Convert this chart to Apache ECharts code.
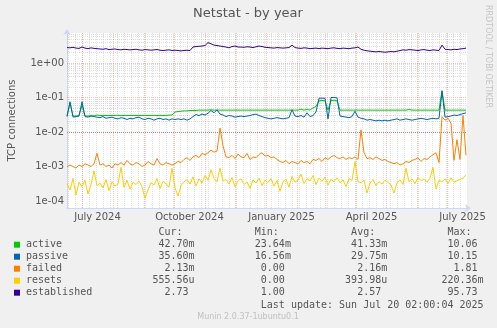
<!DOCTYPE html>
<html><head><meta charset="utf-8">
<script src="https://cdn.jsdelivr.net/npm/echarts@6/dist/echarts.min.js"></script>
<style>html,body{margin:0;padding:0;background:#f0f0f0}#c{width:497px;height:328px}</style>
</head><body><div id="c"></div>
<script>
// ---- time range (400 days, one sample every 3 days) ----
const startDate = '2024-06-16T00:00:00Z';
const endDate = '2025-07-21T00:00:00Z';
const stepDays = 3;

// ---- series values (TCP connections) ----
const active = [0.029,0.07,0.029,0.029,0.03,0.06,0.029,0.029,0.03,0.029,
 0.031,0.03,0.03,0.03,0.03,0.03,0.03,0.03,0.03,0.03,0.03,0.03,0.03,0.03,0.03,0.03,0.03,0.03,0.03,0.03,0.03,0.03,0.03,0.03,0.031,0.031,
 0.038,0.039,0.04,0.041,0.041,0.042,
 0.042,0.042,0.043,0.043,0.043,0.043,0.044,0.043,0.043,0.043,0.043,0.043,0.043,0.043,0.043,0.043,0.043,0.043,0.043,0.043,0.043,0.043,0.043,0.043,0.043,0.043,0.043,0.043,0.043,0.043,0.043,0.043,0.043,0.043,0.043,0.043,0.046,0.043,
 0.045,0.043,0.05,0.055,
 0.08,0.082,0.08,0.043,
 0.082,0.083,0.08,
 0.043,0.043,0.043,0.043,0.043,0.043,0.043,0.043,0.043,0.043,0.043,0.043,0.043,0.043,0.043,0.043,0.043,0.043,0.043,0.043,0.043,0.043,0.043,0.045,0.043,0.043,0.043,0.043,0.043,0.043,0.043,0.043,0.043,0.043,
 0.16,
 0.043,0.043,0.043,0.043,0.043,0.043,0.043,0.0427];
const passive = [0.028,0.075,0.027,0.028,0.029,0.075,0.028,0.027,0.029,0.028,
 0.027,0.026,0.028,0.025,0.026,0.027,0.025,0.024,0.026,0.025,0.023,0.025,0.024,0.026,0.027,0.024,0.023,0.025,0.024,0.022,0.024,0.025,0.023,0.024,0.022,0.024,
 0.023,0.024,0.023,0.024,0.022,0.024,
 0.028,0.032,0.03,0.033,0.031,0.035,0.042,0.036,0.044,0.033,0.031,0.028,0.03,0.029,0.027,0.028,
 0.029,0.028,0.029,0.03,0.032,0.033,0.03,0.028,0.026,0.025,0.024,0.025,0.026,0.025,0.024,0.025,0.026,0.044,0.029,0.028,0.03,0.027,
 0.036,0.028,0.03,0.038,
 0.095,0.096,0.095,0.024,
 0.1,0.1,0.098,
 0.029,0.028,0.027,0.026,0.028,0.04,0.027,0.025,0.024,0.022,0.023,0.022,0.021,0.022,0.021,0.022,0.021,0.022,0.023,0.024,0.022,0.023,0.024,0.023,0.022,0.023,0.024,0.025,0.024,0.023,0.024,0.025,0.024,0.025,
 0.15,
 0.027,0.028,0.029,0.031,0.03,0.032,0.034,0.036];
const failed = [0.001,0.0011,0.001,0.0009,0.0011,0.001,0.0012,0.0011,0.001,0.0012,0.0024,
 0.0011,0.0012,0.001,0.0011,0.0009,0.0012,0.0011,0.0013,0.0011,0.0015,0.0012,0.0011,0.0013,0.0012,0.001,0.0011,0.0014,0.0012,0.0011,0.0017,0.0012,0.0011,0.0013,0.0012,0.0011,
 0.0012,0.0014,0.0013,0.0016,0.0018,0.0015,0.0019,0.0021,0.0018,0.0024,0.0022,0.0025,0.003,0.0026,0.0028,
 0.013,0.004,
 0.0019,0.0018,0.0021,0.0017,0.0023,0.0019,0.0018,0.0024,0.0016,0.0019,0.0018,0.0022,0.0025,0.002,0.0021,
 0.0018,0.0019,0.0016,0.0014,0.0013,0.0015,0.0012,0.0014,0.0013,0.0012,0.0015,0.0013,0.0014,0.0012,0.0016,0.0015,0.0017,0.0014,0.0018,0.0016,0.0019,0.0021,0.0018,0.0017,0.0019,0.0016,0.0018,0.0017,0.0019,0.0016,
 0.0115,0.0025,
 0.0017,0.0018,0.0016,0.0019,0.0017,0.0015,0.0016,0.0014,0.0013,0.0012,0.0013,0.0011,0.0012,0.0014,0.0013,0.0015,0.0016,0.0018,0.0014,0.0017,0.0016,0.0019,0.0022,0.0025,0.0013,
 0.028,0.022,0.025,0.018,0.0015,0.006,0.0016,0.03,0.0021];
const resets = [3.2e-4,2.1e-4,4.5e-4,1.5e-4,3.5e-4,2.6e-4,4.0e-4,1.6e-4,3.0e-4,7.5e-4,2.8e-4,
 3.3e-4,2.4e-4,4.2e-4,2.0e-4,3.6e-4,2.7e-4,3.1e-4,9.5e-4,2.5e-4,4.0e-4,2.2e-4,3.5e-4,3.0e-4,3.8e-4,2.6e-4,1.2e-4,2.1e-4,3.4e-4,2.9e-4,4.5e-4,2.3e-4,3.7e-4,3.2e-4,2.5e-4,9.0e-4,
 2.4e-4,1.4e-4,2.8e-4,3.6e-4,4.2e-4,3.1e-4,5.0e-4,2.7e-4,4.4e-4,3.3e-4,5.5e-4,4.0e-4,8.0e-4,4.5e-4,3.6e-4,
 9.0e-4,3.8e-4,
 4.2e-4,3.1e-4,4.8e-4,2.6e-4,3.9e-4,4.4e-4,3.0e-4,3.6e-4,2.3e-4,4.1e-4,3.3e-4,4.6e-4,2.8e-4,4.0e-4,3.4e-4,
 4.5e-4,2.7e-4,3.9e-4,1.9e-4,3.6e-4,4.3e-4,2.5e-4,5.2e-4,3.5e-4,4.0e-4,6.0e-4,3.2e-4,4.4e-4,3.8e-4,5.5e-4,3.0e-4,4.6e-4,3.7e-4,4.9e-4,2.9e-4,4.2e-4,3.6e-4,4.7e-4,3.4e-4,4.1e-4,2.6e-4,4.5e-4,3.9e-4,1.4e-3,3.6e-4,
 3.4e-4,4.0e-4,
 1.7e-4,3.3e-4,4.2e-4,2.8e-4,3.6e-4,3.1e-4,4.0e-4,3.5e-4,2.9e-4,1.7e-4,3.4e-4,4.1e-4,3.0e-4,9.0e-4,3.6e-4,4.4e-4,3.2e-4,4.8e-4,3.9e-4,4.3e-4,3.5e-4,4.6e-4,9.5e-4,2.2e-4,4.0e-4,
 3.6e-4,4.4e-4,3.2e-4,4.7e-4,3.5e-4,3.9e-4,4.2e-4,4.6e-4,5.6e-4];
const established = [2.8,2.75,2.85,2.7,2.65,2.9,2.7,2.6,2.75,2.65,2.6,
 2.55,2.5,2.6,2.45,2.5,2.55,2.45,2.4,2.5,2.45,2.4,2.45,2.5,2.4,2.35,2.45,2.4,2.35,2.4,2.45,2.35,2.3,2.35,2.4,2.3,2.35,2.3,2.25,2.3,2.35,2.3,
 2.9,3.0,3.05,3.1,3.2,3.9,3.6,3.3,3.2,3.1,3.0,2.9,2.75,3.0,3.1,2.9,
 2.9,2.85,2.95,2.9,2.8,2.95,3.1,3.0,2.85,2.8,2.75,2.7,2.8,2.75,2.7,2.75,2.8,
 3.3,
 2.8,2.7,2.65,2.75,2.7,2.6,2.65,2.7,2.6,2.7,2.65,2.6,2.7,2.75,2.65,2.6,2.7,2.65,2.6,2.7,2.75,2.9,
 2.5,2.35,2.25,2.2,2.15,2.1,2.15,2.1,2.05,2.1,2.15,2.1,2.2,2.3,
 2.4,2.35,2.45,2.4,2.35,2.3,2.4,2.45,2.35,2.3,2.4,2.35,2.3,
 3.3,
 2.5,2.45,2.4,2.5,2.45,2.55,2.6,2.7];

// ---- legend ----
const seriesNames = ['active','passive','failed','resets','established'];
const seriesColors = ['#00CC00','#0066B3','#FF8000','#FFCC00','#330099'];
const curVals = ['42.70m','35.60m','2.13m','555.56u','2.73'];
const minVals = ['23.64m','16.56m','0.00','0.00','1.00'];
const avgVals = ['41.33m','29.75m','2.16m','393.98u','2.57'];
const maxVals = ['10.06','10.15','1.81','220.36m','95.73'];
const lastUpdate = 'Last update: Sun Jul 20 02:00:04 2025';

// ---- axes ----
const yMin = 6.27e-5, yMax = 7.4;
const yTickValues = [1e-4, 1e-3, 1e-2, 1e-1, 1];
const yTickLabels = ['1e-04','1e-03','1e-02','1e-01','1e+00'];
const xTickMonths = ['2024-07','2024-10','2025-01','2025-04','2025-07'];
const xTickLabels = ['July 2024','October 2024','January 2025','April 2025','July 2025'];

const DAY = 86400000;
const t0 = Date.parse(startDate), t1 = Date.parse(endDate);
const toPairs = arr => arr.map((v, i) => [t0 + i * stepDays * DAY, v]);
const allSeries = [active, passive, failed, resets, established];

// grid lines
const MAJ = 'rgba(255,0,0,0.26)', MIN = 'rgba(175,175,175,0.42)';
const hLines = [];
for (let e = -5; e <= 0; e++) for (let k = 1; k <= 9; k++) {
  const v = k * Math.pow(10, e);
  if (v < yMin || v > yMax) continue;
  hLines.push({yAxis: v, lineStyle: {color: k === 1 ? MAJ : MIN, type: [1, 1], width: 1}});
}
const vLines = [];
// weekly minor lines (Mondays)
for (let t = Date.parse('2024-06-17T00:00:00Z'); t < t1; t += 7 * DAY) {
  vLines.push({xAxis: t, lineStyle: {color: MIN, type: [1, 1], width: 1}});
}
for (let y = 2024, m = 6; y * 12 + m <= 2025 * 12 + 6; m++) {
  if (m > 11) { m = 0; y++; }
  vLines.push({xAxis: Date.UTC(y, m, 1), lineStyle: {color: MAJ, type: [1, 1], width: 1}});
}

const option = {
  backgroundColor: '#f0f0f0',
  animation: false,
  grid: {left: 67, top: 33, width: 400, height: 175, show: true, backgroundColor: '#ffffff', borderWidth: 0},
  xAxis: {type: 'time', min: t0, max: t1,
    axisLine: {show: true, lineStyle: {color: '#CFD6F8', width: 1}, symbol: ['none', 'arrow'], symbolSize: [6, 6], symbolOffset: [0, 4]},
    axisTick: {show: false}, axisLabel: {show: false}, splitLine: {show: false}},
  yAxis: {type: 'log', min: yMin, max: yMax,
    axisLine: {show: true, lineStyle: {color: '#CFD6F8', width: 1}, symbol: ['none', 'arrow'], symbolSize: [6, 6], symbolOffset: [0, 4]},
    axisTick: {show: false}, axisLabel: {show: false}, splitLine: {show: false}, minorSplitLine: {show: false}},
  series: [
    {type: 'line', name: 'grid', data: [[t0, 1]], showSymbol: false, lineStyle: {opacity: 0}, z: 1, silent: true,
     markLine: {silent: true, z: 1, symbol: ['none', 'none'], label: {show: false}, animation: false,
       data: hLines.concat(vLines)}}
  ].concat(allSeries.map((arr, i) => ({
    type: 'line', name: seriesNames[i], data: toPairs(arr), showSymbol: false, symbol: 'none', z: 3,
    lineStyle: {color: seriesColors[i], width: 1}, itemStyle: {color: seriesColors[i]}
  })))
};

const chart = echarts.init(document.getElementById('c'));
chart.setOption(option);

const px = t => chart.convertToPixel({xAxisIndex: 0}, t);
const py = v => chart.convertToPixel({yAxisIndex: 0}, v);
const TEXT = '#555555';
const SANS = '"DejaVu Sans", sans-serif';
const MONO = '"DejaVu Sans Mono", monospace';
function txt(x, y, text, size, fam, fill, align, rot) {
  return {type: 'text', x: x, y: y, rotation: rot || 0, silent: true,
    style: {text: text, font: size + 'px ' + fam, fill: fill, align: align, verticalAlign: 'middle', textAlign: align, textVerticalAlign: 'middle'}};
}
const els = [];
els.push(txt(248, 13.5, 'Netstat - by year', 13, SANS, TEXT, 'center'));
els.push(txt(12, 120.5, 'TCP connections', 10, SANS, TEXT, 'center', Math.PI / 2));
els.push(txt(488.5, 56.5, 'RRDTOOL / TOBI OETIKER', 8, SANS, '#c4c4c4', 'center', -Math.PI / 2));
yTickValues.forEach((v, i) => els.push(txt(64, py(v), yTickLabels[i], 10, SANS, TEXT, 'right')));
xTickMonths.forEach((m, i) => {
  const t = Date.parse(m + '-01T00:00:00Z') + 15.5 * DAY;
  els.push(txt(px(t), 217, xTickLabels[i], 10, SANS, TEXT, 'center'));
});
// legend table
const LX = 26, CW = 6.02;
const fmt = s => /\d$/.test(s) ? s + ' ' : s;
const header = ' '.repeat(22) + 'Cur:' + ' '.repeat(12) + 'Min:' + ' '.repeat(12) + 'Avg:' + ' '.repeat(12) + 'Max:';
els.push(txt(LX, 232.5, header, 10, MONO, TEXT, 'left'));
seriesNames.forEach((n, i) => {
  const y = 244.7 + i * 12;
  const row = n.padEnd(21) + fmt(curVals[i]).padStart(7) + fmt(minVals[i]).padStart(16) + fmt(avgVals[i]).padStart(16) + fmt(maxVals[i]).padStart(16);
  els.push({type: 'rect', shape: {x: 14, y: y - 3, width: 6, height: 6}, style: {fill: seriesColors[i]}, silent: true});
  els.push(txt(LX, y, row, 10, MONO, TEXT, 'left'));
});
els.push(txt(LX + 39 * CW, 305, lastUpdate, 10, MONO, TEXT, 'left'));
els.push(txt(248, 316.7, 'Munin 2.0.37-1ubuntu0.1', 8, SANS, '#c0c0c0', 'center'));
chart.setOption({graphic: els});
</script></body></html>
